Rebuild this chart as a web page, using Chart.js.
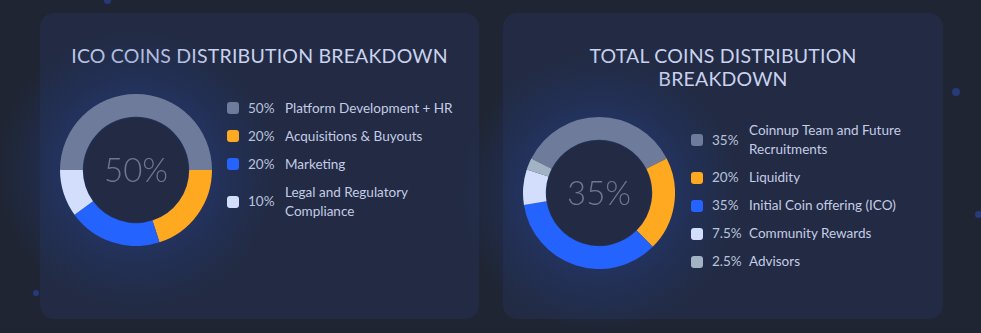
<!DOCTYPE html>
<html>
<head>
<meta charset="utf-8">
<script src="https://cdn.jsdelivr.net/npm/chart.js@4.4.0/dist/chart.umd.min.js"></script>
<style>
  body { margin: 0; width: 981px; height: 333px; background: #1f2533; overflow: hidden; position: relative; font-family: Lato, "Open Sans", sans-serif; }
  .dot { position: absolute; border-radius: 50%; background: #26397a; }
  .card { position: absolute; top: 13px; height: 306px; background: #222b43; border-radius: 14px; }
  .title { position: absolute; left: 0; right: 0; text-align: center; color: #c9d2ee; font-size: 19.5px; letter-spacing: 0.2px; line-height: 23.5px; }
  .glow { position: absolute; border-radius: 50%; }
  .ring { position: absolute; width: 152px; height: 152px; }
  .legend { position: absolute; color: #c4cce6; font-size: 13.5px; line-height: 19px; }
  .row { display: flex; align-items: center; margin-bottom: 9px; }
  .sw { width: 12px; height: 12px; border-radius: 3px; flex: none; }
  .pct { width: 37px; margin-left: 9px; flex: none; color: #b9c2dd; }
  .lbl { white-space: nowrap; }
</style>
</head>
<body>
<div class="dot" style="left:104px;top:-3px;width:7px;height:7px"></div>
<div class="dot" style="left:952px;top:88px;width:8px;height:8px"></div>
<div class="dot" style="left:975px;top:211px;width:7px;height:7px"></div>
<div class="dot" style="left:33px;top:290px;width:6px;height:6px"></div>

<div class="card" style="left:40px;width:439px">
  <div class="title" style="top:31px">ICO COINS DISTRIBUTION BREAKDOWN</div>
  <div class="glow" id="glow1"></div>
  <div class="ring" style="left:19.5px;top:81px"><canvas id="ico"></canvas></div>
  <div class="legend" id="legend-ico" style="left:187px;top:85.5px"></div>
</div>

<div class="card" style="left:503px;width:440px">
  <div class="title" style="top:30.5px">TOTAL COINS DISTRIBUTION<br>BREAKDOWN</div>
  <div class="glow" id="glow2"></div>
  <div class="ring" style="left:20px;top:104px"><canvas id="total"></canvas></div>
  <div class="legend" id="legend-total" style="left:188px;top:108px"></div>
</div>

<script>
// ICO coins breakdown
const icoLabels = ['Platform Development + HR', 'Acquisitions & Buyouts', 'Marketing', ['Legal and Regulatory', 'Compliance']];
const icoValues = [50, 20, 20, 10];
const icoColors = ['#6f7b9b', '#ffa920', '#2563ff', '#d3defc'];

// Total coins breakdown
const totalLabels = [['Coinnup Team and Future', 'Recruitments'], 'Liquidity', 'Initial Coin offering (ICO)', 'Community Rewards', 'Advisors'];
const totalValues = [35, 20, 35, 7.5, 2.5];
const totalColors = ['#6f7b9b', '#ffa920', '#2563ff', '#d3defc', '#a2b4c4'];

const cardBg = '#222b43';

// soft glow behind each ring, the hole keeps the card colour
function setGlow(id, left, top) {
  const el = document.getElementById(id);
  const r = 140;
  el.style.left = (left + 76 - r) + 'px';
  el.style.top = (top + 76 - r) + 'px';
  el.style.width = el.style.height = (r * 2) + 'px';
  el.style.background = `radial-gradient(circle at center, ${cardBg} 0 52px, rgba(38,68,150,0.45) 53px, rgba(36,60,130,0.28) 95px, rgba(34,43,67,0) ${r}px)`;
}
setGlow('glow1', 19.5, 81);
setGlow('glow2', 20, 104);

const centerText = {
  id: 'centerText',
  afterDatasetsDraw(chart) {
    const arc = chart.getDatasetMeta(0).data[0];
    if (!arc) return;
    const ctx = chart.ctx;
    ctx.save();
    ctx.font = '300 33px Lato, sans-serif';
    ctx.fillStyle = '#6d7695';
    ctx.textAlign = 'center';
    ctx.textBaseline = 'middle';
    ctx.fillText(chart.data.datasets[0].data[0] + '%', arc.x, arc.y + 1);
    ctx.restore();
  }
};

function buildLegend(id, labels, values, colors) {
  const box = document.getElementById(id);
  box.innerHTML = labels.map((l, i) => {
    const text = Array.isArray(l) ? l.join('<br>') : l;
    return `
      <div class="row">
        <div class="sw" style="background:${colors[i]}"></div>
        <div class="pct">${values[i]}%</div>
        <div class="lbl">${text}</div>
      </div>`;
  }).join('');
}

function makeDoughnut(canvasId, labels, values, colors, rotation) {
  return new Chart(document.getElementById(canvasId), {
    type: 'doughnut',
    data: {
      labels: labels,
      datasets: [{
        data: values,
        backgroundColor: colors,
        borderWidth: 0,
        hoverOffset: 0,
        offset: 0
      }]
    },
    options: {
      responsive: true,
      maintainAspectRatio: false,
      animation: false,
      cutout: '70%',
      rotation: rotation,
      layout: { padding: 0 },
      plugins: {
        legend: { display: false },
        tooltip: { enabled: false }
      }
    },
    plugins: [centerText]
  });
}

makeDoughnut('ico', icoLabels, icoValues, icoColors, -90);
makeDoughnut('total', totalLabels, totalValues, totalColors, -63);
buildLegend('legend-ico', icoLabels, icoValues, icoColors);
buildLegend('legend-total', totalLabels, totalValues, totalColors);
</script>
</body>
</html>
